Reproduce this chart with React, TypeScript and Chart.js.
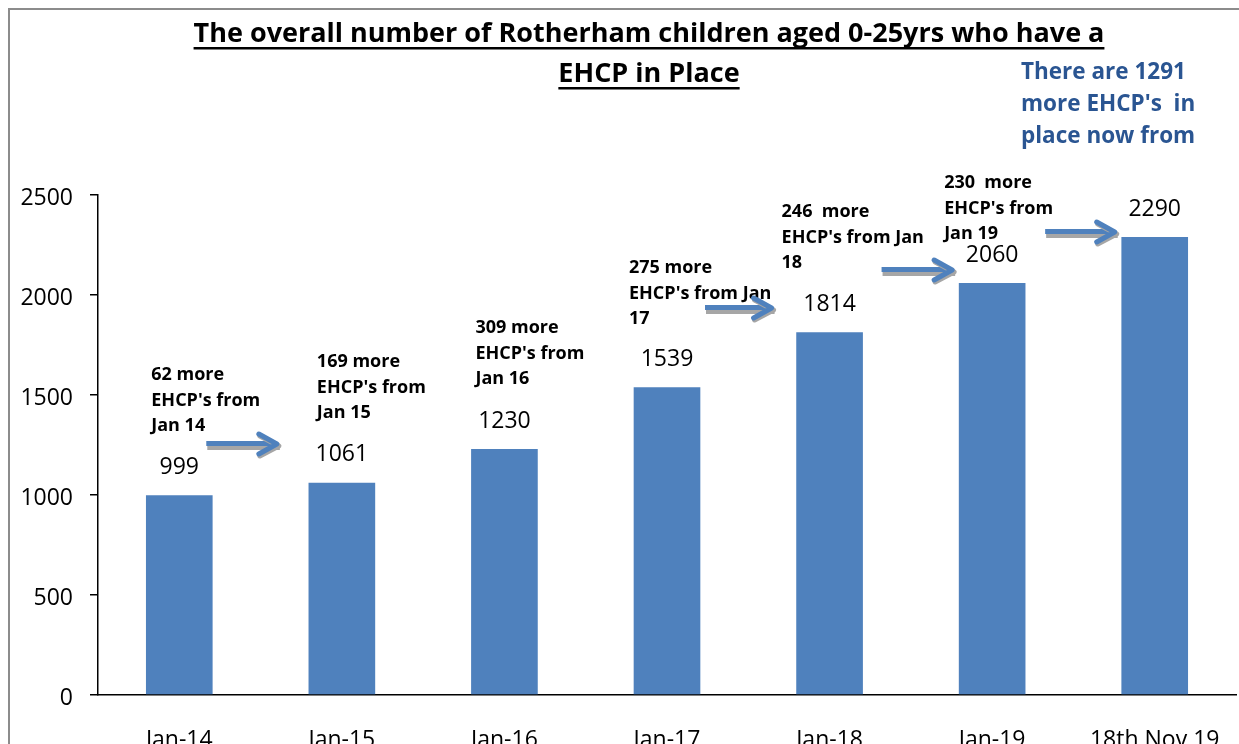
import React, { useEffect, useRef } from 'react';
import { Chart, registerables } from 'chart.js';

Chart.register(...registerables);

// ---------- data ----------
const categories = ['Jan-14', 'Jan-15', 'Jan-16', 'Jan-17', 'Jan-18', 'Jan-19', '18th Nov 19'];
const ehcpCounts = [999, 1061, 1230, 1539, 1814, 2060, 2290];
const yTickValues = [0, 500, 1000, 1500, 2000, 2500];

const titleLines = ['The overall number of Rotherham children aged 0-25yrs who have a', 'EHCP in Place'];
const summaryLines = ['There are 1291', "more EHCP's  in", 'place now from'];

const increaseNotes: string[][] = [
  ['62 more', "EHCP's from", 'Jan 14'],
  ['169 more', "EHCP's from", 'Jan 15'],
  ['309 more', "EHCP's from", 'Jan 16'],
  ['275 more', "EHCP's from Jan", '17'],
  ['246  more', "EHCP's from Jan", '18'],
  ['230  more', "EHCP's from", 'Jan 19'],
];

// ---------- annotation layout (anchored to the scales) ----------
const noteCategoryIndex = [0, 1, 2, 3, 4, 5];
const noteTopValue = [1600, 1665, 1835, 2135, 2415, 2560];
const noteOffsetX = [-28, -25, -29, -38, -48, -48];

const arrowFromIndex = [0, 3, 4, 5];
const arrowValue = [1255, 1935, 2125, 2315];
const arrowStartOffset = [27, 38, 52, 53];
const arrowEndOffset = [-62, -55, -37, -37];

const BAR_COLOR = '#4F81BD';
const FONT = '"Open Sans", "DejaVu Sans", sans-serif';

function drawArrow(ctx: CanvasRenderingContext2D, x1: number, x2: number, y: number) {
  ctx.save();
  // shadow
  ctx.fillStyle = '#A6A6A6';
  ctx.fillRect(x1 + 1, y + 2, x2 - x1 - 1, 4);
  // shaft
  ctx.fillStyle = BAR_COLOR;
  ctx.fillRect(x1, y - 3, x2 - x1 - 4, 5);
  // head
  ctx.strokeStyle = '#A6A6A6';
  ctx.lineWidth = 5;
  ctx.lineCap = 'round';
  ctx.lineJoin = 'round';
  ctx.beginPath();
  ctx.moveTo(x2 - 20, y - 8);
  ctx.lineTo(x2 - 1, y + 2);
  ctx.lineTo(x2 - 20, y + 12);
  ctx.stroke();
  ctx.strokeStyle = BAR_COLOR;
  ctx.beginPath();
  ctx.moveTo(x2 - 21, y - 10);
  ctx.lineTo(x2 - 3, y);
  ctx.lineTo(x2 - 21, y + 10);
  ctx.stroke();
  ctx.restore();
}

const decorPlugin = {
  id: 'decor',
  beforeDraw(chart: any) {
    const ctx: CanvasRenderingContext2D = chart.ctx;
    ctx.save();
    ctx.fillStyle = '#fff';
    ctx.fillRect(0, 0, chart.width, chart.height);
    // frame
    ctx.strokeStyle = '#8C8C8C';
    ctx.lineWidth = 2;
    ctx.beginPath();
    ctx.moveTo(9, chart.height);
    ctx.lineTo(9, 9);
    ctx.lineTo(chart.width, 9);
    ctx.stroke();
    ctx.restore();
  },
  afterDatasetsDraw(chart: any) {
    const ctx: CanvasRenderingContext2D = chart.ctx;
    const xs = chart.scales.x;
    const ys = chart.scales.y;
    ctx.save();

    // title
    ctx.fillStyle = '#000';
    ctx.font = `bold 27px ${FONT}`;
    ctx.textAlign = 'center';
    ctx.textBaseline = 'alphabetic';
    const titleCx = 649;
    const titleBase = [42, 82];
    titleLines.forEach((t, i) => {
      ctx.fillText(t, titleCx, titleBase[i]);
      const w = ctx.measureText(t).width;
      ctx.fillRect(titleCx - w / 2, titleBase[i] + 5, w, 2.5);
    });

    // summary text
    ctx.fillStyle = '#2A5592';
    ctx.font = `bold 22.5px ${FONT}`;
    ctx.textAlign = 'left';
    ctx.textBaseline = 'middle';
    summaryLines.forEach((t, i) => ctx.fillText(t, 1021, 73 + i * 32));

    // value labels
    ctx.fillStyle = '#000';
    ctx.font = `23px ${FONT}`;
    ctx.textAlign = 'center';
    const meta = chart.getDatasetMeta(0);
    meta.data.forEach((bar: any, i: number) => {
      ctx.fillText(String(ehcpCounts[i]), bar.x, bar.y - 28);
    });

    // increase notes
    ctx.font = `bold 18px ${FONT}`;
    ctx.textAlign = 'left';
    increaseNotes.forEach((lines, k) => {
      const x = xs.getPixelForValue(noteCategoryIndex[k]) + noteOffsetX[k];
      const y = ys.getPixelForValue(noteTopValue[k]);
      lines.forEach((ln, j) => ctx.fillText(ln, x, y + j * 25.5));
    });

    // arrows
    arrowFromIndex.forEach((idx, k) => {
      const x1 = xs.getPixelForValue(idx) + arrowStartOffset[k];
      const x2 = xs.getPixelForValue(idx + 1) + arrowEndOffset[k];
      const y = ys.getPixelForValue(arrowValue[k]);
      drawArrow(ctx, x1, x2, y);
    });

    ctx.restore();
  },
};

export default function App() {
  const ref = useRef<HTMLCanvasElement | null>(null);

  useEffect(() => {
    if (!ref.current) return;
    const chart = new Chart(ref.current, {
      type: 'bar',
      data: {
        labels: categories,
        datasets: [
          {
            data: ehcpCounts,
            backgroundColor: BAR_COLOR,
            borderWidth: 0,
            barPercentage: 0.41,
            categoryPercentage: 1,
          },
        ],
      },
      options: {
        responsive: false,
        animation: false,
        events: [],
        layout: { padding: { top: 195, right: 3, left: 0, bottom: 0 } },
        plugins: {
          legend: { display: false },
          tooltip: { enabled: false },
          title: { display: false },
        },
        scales: {
          x: {
            afterFit: (s: any) => {
              s.height = 75;
              s.paddingLeft = 0;
              s.paddingRight = 0;
            },
            grid: { display: false, drawTicks: false },
            border: { display: true, color: '#000', width: 1.5 },
            ticks: {
              color: '#000',
              font: { family: FONT, size: 23 },
              padding: 32,
              maxRotation: 0,
              autoSkip: false,
            },
          },
          y: {
            min: 0,
            max: 2500,
            afterFit: (s: any) => {
              s.width = 98;
            },
            afterBuildTicks: (s: any) => {
              s.ticks = yTickValues.map((v) => ({ value: v }));
            },
            grid: {
              display: true,
              drawOnChartArea: false,
              drawTicks: true,
              tickLength: 8,
              color: '#000',
              lineWidth: 1.5,
            },
            border: { display: true, color: '#000', width: 1.5 },
            ticks: {
              color: '#000',
              font: { family: FONT, size: 23 },
              padding: 17,
              labelOffset: 3,
              callback: (v: any) => String(v),
            },
          },
        },
      },
      plugins: [decorPlugin],
    });
    return () => chart.destroy();
  }, []);

  return (
    <canvas
      ref={ref}
      width={1239}
      height={770}
      style={{ position: 'fixed', left: 0, top: 0, width: '1239px', height: '770px' }}
    />
  );
}
